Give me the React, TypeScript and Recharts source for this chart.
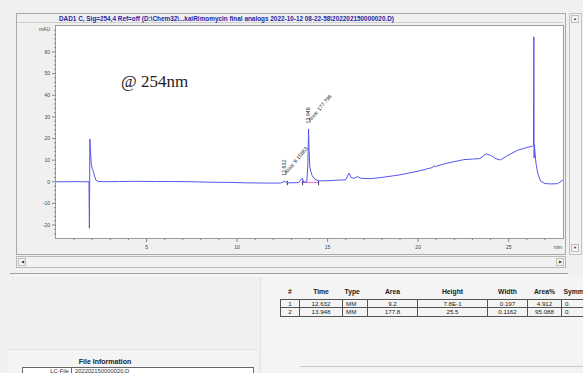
import { Line, LineChart, ReferenceDot, ReferenceLine, XAxis, YAxis } from "recharts";

// chromatogram trace (min, mAU)
const retentionTimes = [
  0, 0.5, 1.0, 1.5, 1.82, 1.845, 1.87, 1.9, 1.95, 2.0, 2.05, 2.12, 2.2, 2.3, 2.6, 3.5, 4.5, 5.5, 6.5,
  7.5, 8.5, 9.5, 10.5, 11.5, 12.4, 12.632, 12.8, 13.4, 13.6, 13.68, 13.85, 13.91, 13.948, 13.98,
  14.02, 14.08, 14.15, 14.3, 14.5, 15.0, 15.5, 16.0, 16.18, 16.3, 16.45, 16.64, 16.85, 17.3, 18.0,
  19.0, 20.0, 20.8, 20.86, 20.92, 21.5, 22.0, 22.5, 23.0, 23.4, 23.75, 24.05, 24.3, 24.55, 25.0,
  25.5, 26.0, 26.33, 26.37, 26.39, 26.405, 26.42, 26.5, 26.6, 26.77, 27.0, 27.3, 27.7, 28.0,
];
const absorbance = [
  0, 0, 0.05, 0, 0, -21.5, 19.8, 15, 8, 6, 5.2, 3, 0.8, 0.2, 0, 0.1, 0.2, 0.1, 0.1,
  0, -0.2, -0.3, -0.5, -0.6, -0.6, 0.2, -0.5, -0.4, 1.7, -0.2, 0, 8, 24.4, 14,
  6.5, 4.5, 2.8, 1.2, 0.4, 0.5, 0.7, 0.9, 4.0, 2.0, 1.6, 2.4, 1.6, 1.4, 2.0,
  3.2, 4.9, 6.6, 7.4, 7.0, 8.4, 9.3, 10.2, 10.5, 10.7, 12.9, 12.0, 10.6, 10.1, 12.4,
  14.6, 15.8, 16.5, 16.8, 67.0, 11.0, 17.0, 9.0, 4.0, 0.2, -0.8, -1.0, -0.9, 0.8,
];

const peakTimes = [12.632, 13.948];
const peakApex = [0.2, 24.4];
const peakAreas = ["9.15863", "177.798"];
const peakMarks = [12.78, 13.62, 14.5];

const yTickValues = [
  -24, -22, -20, -18, -16, -14, -12, -10, -8, -6, -4, -2, 0, 2, 4, 6, 8, 10, 12, 14, 16, 18, 20,
  22, 24, 26, 28, 30, 32, 34, 36, 38, 40, 42, 44, 46, 48, 50, 52, 54, 56, 58, 60, 62, 64, 66, 68, 70,
];
const yLabelValues = [-20, -10, 0, 10, 20, 30, 40, 50, 60];
const xTickValues = [1, 2, 3, 4, 5, 6, 7, 8, 9, 10, 11, 12, 13, 14, 15, 16, 17, 18, 19, 20, 21, 22, 23, 24, 25, 26, 27];
const xLabelValues = [5, 10, 15, 20, 25];

const tableColumns = ["#", "Time", "Type", "Area", "Height", "Width", "Area%", "Symmetry"];
const peakRows = [
  ["1", "12.632", "MM", "9.2", "7.8E-1", "0.197", "4.912", "0."],
  ["2", "13.948", "MM", "177.8", "25.5", "0.1162", "95.088", "0."],
];
const columnWidths = [19, 43, 25, 50, 70, 40, 34, 40];

const title =
  "DAD1 C, Sig=254,4 Ref=off (D:\\Chem32\\...ka\\Rimomycin final analogs 2022-10-12 08-22-58\\202202150000020.D)";

const data = retentionTimes.map((t, i) => ({ t, v: absorbance[i] }));

const LINE = "#5656ee";
const AXIS_TEXT = "#444";

function YTick({ x, y, payload }: any) {
  const major = yLabelValues.includes(payload.value);
  return (
    <g>
      <line x1={x - (major ? 4 : 2)} x2={x} y1={y} y2={y} stroke="#888" />
      {major && (
        <text x={x - 6} y={y} dy={1.8} textAnchor="end" fontSize={5} fill={AXIS_TEXT}>
          {payload.value}
        </text>
      )}
    </g>
  );
}

function XTick({ x, y, payload }: any) {
  const major = xLabelValues.includes(payload.value);
  return (
    <g>
      <line x1={x} x2={x} y1={y} y2={y + (major ? 4 : 2)} stroke="#888" />
      {major && (
        <text x={x} y={y + 10.5} textAnchor="middle" fontSize={5} fill={AXIS_TEXT}>
          {payload.value}
        </text>
      )}
    </g>
  );
}

function PeakLabel({ viewBox, time, area }: any) {
  const cx = viewBox.x + viewBox.width / 2;
  const cy = viewBox.y + viewBox.height / 2;
  return (
    <g fontSize={5.3} fill="#333">
      <text transform={`translate(${cx + 1.5},${cy - 5.5}) rotate(-90)`}>{time}</text>
      <text transform={`translate(${cx + 2},${cy - 7}) rotate(-50)`}>{`Area: ${area}`}</text>
    </g>
  );
}

const box = (left: number, top: number, width: number, height: number, extra: any = {}) => ({
  position: "absolute" as const,
  left,
  top,
  width,
  height,
  boxSizing: "border-box" as const,
  ...extra,
});

function Arrow({ left, top, dir }: { left: number; top: number; dir: string }) {
  return (
    <div
      style={box(left, top, 8, 8, {
        border: "1px solid #bdbdbd",
        background: "#f4f4f4",
        fontSize: 4,
        lineHeight: "6px",
        textAlign: "center",
        color: "#333",
      })}
    >
      {dir}
    </div>
  );
}

const sideAligned = (i: number) => i === 2 || i === 7;

export default function App() {
  return (
    <div
      style={{
        position: "relative",
        width: 583,
        height: 373,
        overflow: "hidden",
        background: "#f0f0f0",
        fontFamily: "'Liberation Sans', Arial, sans-serif",
      }}
    >
      <style>{"body{margin:0}"}</style>

      {/* chart frame */}
      <div style={box(16, 13, 550, 242, { border: "1px solid #a9a9a9" })} />
      <div style={box(17, 14, 546, 9, { borderBottom: "1px solid #cfcfcf" })} />
      <div
        style={box(59, 14, 440, 9, {
          fontSize: 6.4,
          fontWeight: 700,
          color: "#1f1fa8",
          lineHeight: "9px",
          whiteSpace: "nowrap",
        })}
      >
        {title}
      </div>
      <div style={box(55, 25, 509, 214, { border: "1px solid #9c9c9c", background: "#fff" })} />

      <div style={{ position: "absolute", left: 0, top: 0 }}>
        <LineChart width={583} height={260} data={data} margin={{ top: 26, right: 20, bottom: 0, left: 0 }}>
          <XAxis
            dataKey="t"
            type="number"
            domain={[0, 28]}
            ticks={xTickValues}
            interval={0}
            tick={<XTick />}
            tickLine={false}
            axisLine={false}
            tickSize={0}
            tickMargin={0}
            height={22}
            allowDataOverflow
            label={({ viewBox }: any) => (
              <text x={viewBox.x + viewBox.width - 1} y={viewBox.y + 10.5} textAnchor="end" fontSize={5} fill={AXIS_TEXT}>
                min
              </text>
            )}
          />
          <YAxis
            type="number"
            domain={[-26, 72]}
            ticks={yTickValues}
            interval={0}
            tick={<YTick />}
            tickLine={false}
            axisLine={false}
            tickSize={0}
            tickMargin={0}
            width={56}
            allowDataOverflow
            label={({ viewBox }: any) => (
              <text x={viewBox.x + viewBox.width - 6} y={viewBox.y + 5} textAnchor="end" fontSize={5} fill={AXIS_TEXT}>
                mAU
              </text>
            )}
          />
          <ReferenceLine
            segment={[
              { x: 13.55, y: -0.3 },
              { x: 14.5, y: -0.3 },
            ]}
            stroke="#e070d8"
          />
          {peakMarks.map((m) => (
            <ReferenceLine
              key={m}
              segment={[
                { x: m, y: -1.6 },
                { x: m, y: 0.4 },
              ]}
              stroke="#4a2c7a"
            />
          ))}
          <Line dataKey="v" type="linear" stroke={LINE} strokeWidth={1} dot={false} isAnimationActive={false} />
          {peakTimes.map((t, i) => (
            <ReferenceDot
              key={t}
              x={t}
              y={peakApex[i]}
              r={1}
              fill="none"
              stroke="none"
              label={<PeakLabel time={t.toFixed(3)} area={peakAreas[i]} />}
            />
          ))}
        </LineChart>
      </div>

      <div
        style={box(121, 72, 90, 20, {
          fontFamily: "'Liberation Serif', 'Times New Roman', serif",
          fontSize: 17,
          color: "#222",
          whiteSpace: "nowrap",
        })}
      >
        @ 254nm
      </div>

      {/* vertical scrollbar */}
      <div style={box(569, 13, 13, 242, { border: "1px solid #c2c2c2", background: "#f2f2f2" })} />
      <Arrow left={571} top={15} dir="▲" />
      <Arrow left={571} top={244} dir="▼" />

      {/* horizontal scrollbar */}
      <div style={box(16, 256, 550, 12, { border: "1px solid #b9b9b9", background: "#f2f2f2" })} />
      <Arrow left={18} top={258} dir="◀" />
      <Arrow left={556} top={258} dir="▶" />

      {/* splitter */}
      <div style={box(10, 273, 558, 3, { borderTop: "1px solid #a0a0a0", borderBottom: "1px solid #fff" })} />

      {/* lower panels */}
      <div style={box(260, 277, 323, 96, { background: "#f4f4f4", borderLeft: "1px solid #e2e2e2" })} />
      <div style={box(8, 349, 250, 24, { background: "#f4f4f4", borderTop: "1px solid #e0e0e0" })} />

      <table
        style={{
          position: "absolute",
          left: 280,
          top: 284,
          width: columnWidths.reduce((a, b) => a + b, 0),
          borderCollapse: "collapse",
          tableLayout: "fixed",
          fontSize: 6.2,
          color: "#222",
          whiteSpace: "nowrap",
        }}
      >
        <colgroup>
          {columnWidths.map((w, i) => (
            <col key={i} style={{ width: w }} />
          ))}
        </colgroup>
        <thead>
          <tr style={{ height: 15 }}>
            {tableColumns.map((c, i) => (
              <th
                key={c}
                style={{
                  padding: 0,
                  fontSize: 6.8,
                  fontWeight: 700,
                  textAlign: sideAligned(i) ? "left" : "center",
                  paddingLeft: sideAligned(i) ? 2 : 0,
                  overflow: "hidden",
                }}
              >
                {c}
              </th>
            ))}
          </tr>
        </thead>
        <tbody>
          {peakRows.map((row) => (
            <tr key={row[0]} style={{ height: 8.5 }}>
              {row.map((cell, i) => (
                <td
                  key={i}
                  style={{
                    border: "1px solid #555",
                    padding: 0,
                    paddingLeft: sideAligned(i) ? 3 : 0,
                    textAlign: sideAligned(i) ? "left" : "center",
                    lineHeight: "7px",
                    overflow: "hidden",
                  }}
                >
                  {cell}
                </td>
              ))}
            </tr>
          ))}
        </tbody>
      </table>

      <div
        style={box(55, 358, 100, 8, {
          fontSize: 7,
          fontWeight: 700,
          color: "#222",
          textAlign: "center",
          lineHeight: "8px",
        })}
      >
        File Information
      </div>
      <div style={box(22, 367, 232, 10, { border: "1px solid #666", background: "#fff", fontSize: 5.8, color: "#333" })}>
        <span style={{ position: "absolute", right: 184, top: 0 }}>LC-File</span>
        <span style={{ position: "absolute", left: 48, top: -1, bottom: 0, borderLeft: "1px solid #666" }} />
        <span style={{ position: "absolute", left: 52, top: 0 }}>202202150000020.D</span>
      </div>

      <div style={box(300, 366, 283, 6, { borderTop: "1px solid #c8c8c8" })} />
    </div>
  );
}
